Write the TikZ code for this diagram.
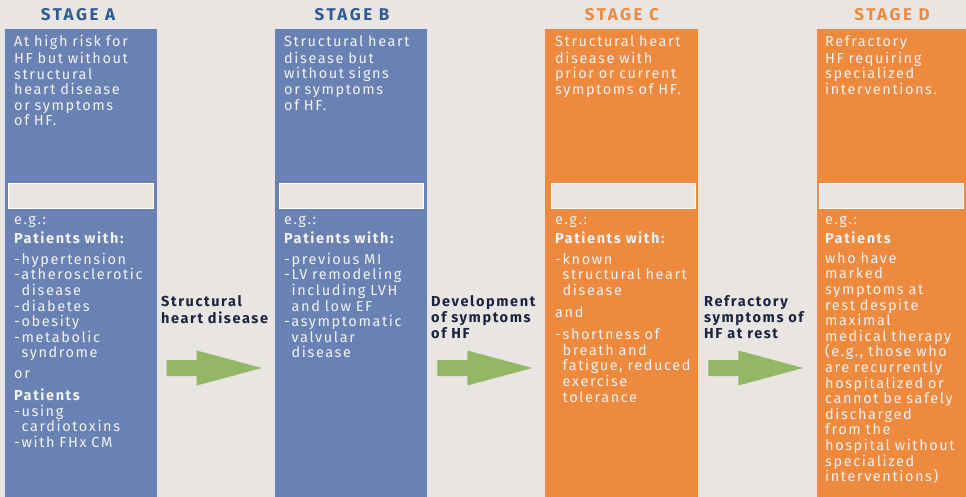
\documentclass[tikz,border=0pt]{standalone}
\usepackage{fontspec}
\setmainfont{Fira Sans}[LetterSpace=11]
\definecolor{bg}{HTML}{E9E5E2}
\definecolor{stageblue}{HTML}{6A82B3}
\definecolor{stageorange}{HTML}{EE8A3E}
\definecolor{titleblue}{HTML}{2F5B97}
\definecolor{arrowgreen}{HTML}{94B766}
\definecolor{navy}{HTML}{1B2440}
\definecolor{boxtext}{HTML}{F2F2F6}
\tikzset{
  stagebox/.style={draw=none, inner sep=0pt, anchor=north west, minimum height=468pt},
  gapbox/.style={fill=bg, draw=white, line width=0.6pt, inner sep=0pt, anchor=north west, minimum height=25pt},
  title/.style={font=\bfseries\fontsize{17}{20}\selectfont\addfontfeature{LetterSpace=15}, anchor=base, inner sep=0pt},
  body/.style={text=boxtext, font=\fontsize{14.5}{15.6}\selectfont, anchor=north west, inner sep=0pt, text width=170pt, align=left},
  label/.style={text=navy, font=\bfseries\fontsize{14.5}{16.4}\selectfont, anchor=north west, inner sep=0pt, text width=170pt, align=left},
  greenarrow/.style={fill=arrowgreen, draw=none}
}
\newcommand{\ind}{\hspace*{7.5pt}}
\begin{document}
\begin{tikzpicture}[x=1pt, y=-1pt]
\useasboundingbox (0,0) rectangle (966,497);
\fill[bg] (0,0) rectangle (966,497);
% titles
\node[title, text=titleblue] (tA) at (78,20.7) {STAGE A};
\node[title, text=titleblue] (tB) at (352,20.7) {STAGE B};
\node[title, text=stageorange] (tC) at (622,20.7) {STAGE C};
\node[title, text=stageorange] (tD) at (892,20.7) {STAGE D};
% boxes
\node[stagebox, fill=stageblue, minimum width=152pt] (bA) at (5,29) {};
\node[stagebox, fill=stageblue, minimum width=152pt] (bB) at (275,29) {};
\node[stagebox, fill=stageorange, minimum width=153pt] (bC) at (545,29) {};
\node[stagebox, fill=stageorange, minimum width=149pt] (bD) at (817,29) {};
% gaps
\node[gapbox, minimum width=145pt] (gA) at (8,183) {};
\node[gapbox, minimum width=144pt] (gB) at (279,183) {};
\node[gapbox, minimum width=144pt] (gC) at (551,183) {};
\node[gapbox, minimum width=144pt] (gD) at (819,183) {};
% top texts
\node[body] (dA) at (14,35.1) {\strut At high risk for\\HF but without\\structural\\heart disease\\or symptoms\\of HF.};
\node[body] (dB) at (284,35.1) {\strut Structural heart\\disease but\\without signs\\or symptoms\\of HF.};
\node[body] (dC) at (555,35.1) {\strut Structural heart\\disease with\\prior or current\\symptoms of HF.};
\node[body] (dD) at (825,35.1) {\strut Refractory\\HF requiring\\specialized\\interventions.};
% bottom texts
\node[body] (eA) at (14,213.1) {\strut e.g.:\\[2pt]\textbf{Patients with:}\\[5pt]-hypertension\\-atherosclerotic\\\ind disease\\-diabetes\\-obesity\\-metabolic\\\ind syndrome\\[5pt]or\\[6.5pt]\textbf{Patients}\\-using\\\ind cardiotoxins\\-with FHx CM};
\node[body] (eB) at (284,213.1) {\strut e.g.:\\[2pt]\textbf{Patients with:}\\[5pt]-previous MI\\-LV remodeling\\\ind including LVH\\\ind and low EF\\-asymptomatic\\\ind valvular\\\ind disease};
\node[body] (eC) at (555,213.1) {\strut e.g.:\\[2pt]\textbf{Patients with:}\\[5pt]-known\\\ind structural heart\\\ind disease\\[6.5pt]and\\[6.5pt]-shortness of\\\ind breath and\\\ind fatigue, reduced\\\ind exercise\\\ind tolerance};
\node[body] (eD) at (825,213.1) {\strut e.g.:\\[2pt]\textbf{Patients}\\[4pt]who have\\marked\\symptoms at\\rest despite\\maximal\\medical therapy\\(e.g., those who\\are recurrently\\hospitalized or\\cannot be safely\\discharged\\from the\\hospital without\\specialized\\interventions)};
% transition labels
\node[label] (l1) at (161,294.5) {\strut Structural\\heart disease};
\node[label] (l2) at (431,294.5) {\strut Development\\of symptoms\\of HF};
\node[label] (l3) at (704,294.5) {\strut Refractory\\symptoms of\\HF at rest};
% arrows
\coordinate (a1) at (166.7,368);
\coordinate (a2) at (437.3,368);
\coordinate (a3) at (708.3,368);
\foreach \a in {a1,a2,a3}{
  \fill[greenarrow] (\a) ++(0,-8) -- ++(30,0) -- ++(0,-9.5) -- ++(65,17.5) -- ++(-65,17.5) -- ++(0,-9.5) -- ++(-30,0) -- cycle;
}
\end{tikzpicture}
\end{document}
